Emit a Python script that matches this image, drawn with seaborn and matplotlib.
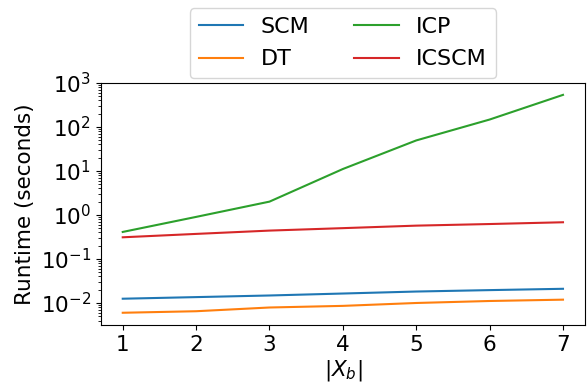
import matplotlib
matplotlib.use("Agg")
import matplotlib.pyplot as plt
import seaborn as sns
import pandas as pd

# Runtime per method against the size of X_b
sizes = [1, 2, 3, 4, 5, 6, 7]
methods = ["SCM", "DT", "ICP", "ICSCM"]
scm_runtime = [0.0125, 0.0136, 0.0148, 0.0164, 0.0182, 0.0196, 0.0210]
dt_runtime = [0.0060, 0.0065, 0.0079, 0.0086, 0.0100, 0.0111, 0.0119]
icp_runtime = [0.41, 0.90, 2.0, 11.0, 49.0, 146.0, 530.0]
icscm_runtime = [0.31, 0.37, 0.44, 0.50, 0.57, 0.62, 0.68]

runtimes = {"SCM": scm_runtime, "DT": dt_runtime, "ICP": icp_runtime, "ICSCM": icscm_runtime}
df = pd.DataFrame(
    [(x, m, v) for m in methods for x, v in zip(sizes, runtimes[m])],
    columns=["size", "method", "runtime"],
)

plt.rcParams["font.size"] = 15.5
fig = plt.figure(figsize=(5.87, 3.83), dpi=100)
ax = fig.add_axes([0.1716, 0.1514, 0.9966 - 0.1716, 0.784 - 0.1514])

sns.lineplot(data=df, x="size", y="runtime", hue="method", hue_order=methods,
             palette=["tab:blue", "tab:orange", "tab:green", "tab:red"], ax=ax)
ax.set_yscale("log")
ax.set_ylim(10 ** -2.5, 10 ** 3)
ax.set_xlim(0.7, 7.3)
ax.set_xlabel(r"$|X_b|$", labelpad=2)
ax.set_ylabel("Runtime (seconds)")
ax.set_xticks(sizes)
ax.legend(loc="lower center", bbox_to_anchor=(0.5, 1.0), ncol=2, title=None,
          borderaxespad=0.2, fontsize=16, labelspacing=0.55)

fig.savefig("out.png", dpi=100)
